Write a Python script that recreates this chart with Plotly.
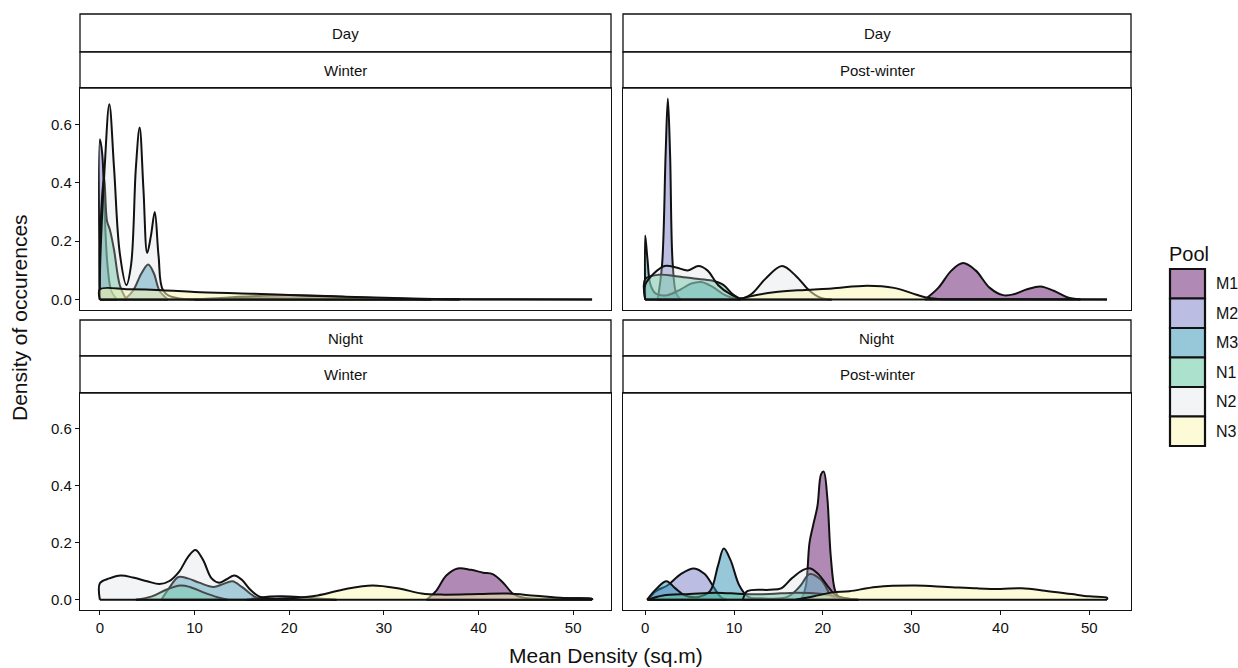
import plotly.graph_objects as go

W, H = 1238, 668

POOLS = ["M1", "M2", "M3", "N1", "N2", "N3"]
# fill colour and opacity per pool; legend swatches use the same colours blended on white
FILL_BASE = {
    "M1": (97, 21, 105),
    "M2": (119, 125, 197),
    "M3": (45, 145, 182),
    "N1": (88, 195, 155),
    "N2": (212, 216, 218),
    "N3": (249, 245, 175),
}
FILL_ALPHA = {"M1": 0.5, "M2": 0.5, "M3": 0.5, "N1": 0.5, "N2": 0.28, "N3": 0.5}

# ---- density curves: (x, density) knots per pool and panel ----
# Day / Winter
dw_m1 = [(10, 0), (14, 0.008), (18, 0.014), (22, 0.014), (26, 0.009), (30, 0.004), (35, 0)]
dw_m2 = [(0, 0.55), (0.25, 0.5), (0.5, 0.3), (0.8, 0.12), (1.2, 0.03), (1.8, 0)]
dw_m3 = [(2.6, 0), (3.5, 0.03), (4.4, 0.09), (5.1, 0.12), (5.7, 0.09), (6.3, 0.03), (7.2, 0)]
dw_n1 = [(0, 0.18), (0.45, 0.42), (0.75, 0.27), (1.05, 0.24), (1.5, 0.17), (2.1, 0.05), (2.8, 0)]
dw_n2 = [(0, 0.08), (0.5, 0.45), (1.0, 0.67), (1.5, 0.45), (2.1, 0.16), (2.8, 0.05), (3.3, 0.12),
         (3.8, 0.45), (4.2, 0.59), (4.6, 0.38), (5.0, 0.16), (5.4, 0.22), (5.8, 0.3), (6.2, 0.15),
         (6.7, 0.03), (8, 0.006), (15, 0.004), (25, 0.003), (40, 0.001), (52, 0)]
dw_n3 = [(0, 0.035), (3, 0.035), (6.6, 0.032), (10, 0.026), (16, 0.02), (22, 0.013), (28, 0.008),
         (34, 0.003), (38, 0)]

# Day / Post-winter
dp_m1 = [(31.5, 0), (33, 0.04), (34.5, 0.1), (35.8, 0.125), (37.2, 0.1), (38.8, 0.04), (40.3, 0.015),
         (41.5, 0.018), (43, 0.035), (44.5, 0.045), (46, 0.03), (47.5, 0.008), (49, 0)]
dp_m2 = [(1.4, 0), (1.9, 0.12), (2.3, 0.5), (2.55, 0.69), (2.8, 0.5), (3.1, 0.12), (3.5, 0.02), (4, 0)]
dp_m3 = [(0, 0.22), (0.25, 0.14), (0.6, 0.05), (1.2, 0.02), (2.5, 0.015), (4, 0.035), (5.2, 0.055),
         (6.3, 0.06), (7.5, 0.045), (9, 0.015), (10.5, 0)]
dp_n1 = [(0, 0.07), (1.5, 0.085), (3.5, 0.08), (5.5, 0.072), (7.5, 0.065), (8.8, 0.05), (9.8, 0.02),
         (10.8, 0)]
dp_n2 = [(0, 0.05), (1.0, 0.09), (2.2, 0.115), (3.5, 0.11), (4.8, 0.1), (6.0, 0.115), (7.0, 0.1),
         (8.2, 0.05), (9.5, 0.02), (10.8, 0.004), (12, 0.02), (13.5, 0.07), (15.4, 0.115), (17, 0.08),
         (18.5, 0.03), (19.8, 0.005), (21, 0)]
dp_n3 = [(10.5, 0), (12, 0.012), (14.5, 0.025), (18, 0.033), (21, 0.038), (25, 0.047), (28, 0.04),
         (30, 0.022), (31.5, 0.008), (33, 0.002), (40, 0.001), (52, 0)]

# Night / Winter
nw_m1 = [(34.5, 0), (35.5, 0.03), (36.6, 0.085), (37.8, 0.11), (39.2, 0.105), (40.5, 0.095),
         (41.5, 0.09), (42.6, 0.06), (43.7, 0.02), (45, 0.006), (48, 0.004), (52, 0.003)]
nw_m2 = [(15.5, 0), (17, 0.008), (19, 0.012), (21, 0.01), (23, 0.004), (25, 0)]
nw_m3 = [(6.5, 0), (7.3, 0.04), (8.3, 0.08), (9.3, 0.075), (10.5, 0.06), (12, 0.045), (13, 0.055),
         (14, 0.065), (15, 0.045), (16.3, 0.012), (17.5, 0)]
nw_n1 = [(3.8, 0), (5.5, 0.012), (7, 0.035), (8.5, 0.05), (9.5, 0.045), (11, 0.025), (12.5, 0.008),
         (13.5, 0)]
nw_n2 = [(0, 0.058), (1.0, 0.075), (2.2, 0.085), (3.5, 0.078), (5.0, 0.065), (6.3, 0.055), (7.3, 0.065),
         (8.4, 0.1), (9.3, 0.15), (10.1, 0.175), (10.9, 0.14), (11.8, 0.075), (12.6, 0.06),
         (13.4, 0.072), (14.2, 0.085), (15.0, 0.07), (15.9, 0.035), (16.8, 0.012), (18, 0.004), (20, 0)]
nw_n3 = [(16, 0), (20, 0.005), (23, 0.015), (26, 0.038), (28.8, 0.05), (31.5, 0.04), (34, 0.022),
         (36, 0.018), (40, 0.02), (43, 0.022), (46, 0.014), (49, 0.006), (52, 0.003)]

# Night / Post-winter
np_m1 = [(17.6, 0), (18.1, 0.05), (18.5, 0.2), (18.9, 0.26), (19.4, 0.33), (19.8, 0.44), (20.1, 0.45),
         (20.5, 0.36), (20.9, 0.15), (21.4, 0.03), (22, 0)]
np_m2 = [(0.3, 0), (1.2, 0.03), (2.5, 0.05), (4.0, 0.09), (5.5, 0.11), (6.7, 0.09), (7.6, 0.05),
         (8.5, 0.01), (9.2, 0)]
np_m3 = [(0.2, 0), (1.3, 0.04), (2.4, 0.065), (3.4, 0.04), (4.5, 0.015), (6, 0.01), (7.3, 0.03),
         (8.2, 0.12), (8.85, 0.18), (9.6, 0.14), (10.6, 0.05), (11.6, 0.01), (13, 0.005), (16, 0.01),
         (17.5, 0.05), (18.5, 0.09), (19.8, 0.07), (20.8, 0.02), (21.5, 0)]
np_n1 = [(0.3, 0), (2, 0.015), (5, 0.02), (8, 0.025), (11, 0.02), (14, 0.02), (17, 0.025), (20, 0.02),
         (22, 0.008), (24, 0)]
np_n2 = [(11, 0), (11.5, 0.03), (14, 0.035), (15.3, 0.04), (16.5, 0.075), (17.8, 0.105), (18.6, 0.11),
         (19.5, 0.09), (20.5, 0.05), (21.3, 0.02), (22.5, 0.005), (24, 0)]
np_n3 = [(17, 0), (19, 0.012), (21, 0.025), (23, 0.03), (26, 0.045), (30.4, 0.05), (34, 0.045),
         (37.4, 0.04), (40, 0.038), (42.4, 0.04), (45, 0.032), (48, 0.02), (50, 0.012), (52, 0.007)]

PANELS = [
    ("x", "y", [dw_m1, dw_m2, dw_m3, dw_n1, dw_n2, dw_n3]),
    ("x2", "y2", [dp_m1, dp_m2, dp_m3, dp_n1, dp_n2, dp_n3]),
    ("x3", "y3", [nw_m1, nw_m2, nw_m3, nw_n1, nw_n2, nw_n3]),
    ("x4", "y4", [np_m1, np_m2, np_m3, np_n1, np_n2, np_n3]),
]

STRIPS = [("Day", "Winter"), ("Day", "Post-winter"), ("Night", "Winter"), ("Night", "Post-winter")]

X_TICKS = [0, 10, 20, 30, 40, 50]
Y_TICKS = [0.0, 0.2, 0.4, 0.6]

FONT = "Liberation Sans, Arial, sans-serif"
INK = "#111111"


def px_x(p):
    return p / W


def px_y(p):
    return 1 - p / H


fig = go.Figure()

for xa, ya, curves in PANELS:
    for pool, pts in zip(POOLS, curves):
        xs = [p[0] for p in pts]
        ys = [p[1] for p in pts]
        if ys[0] != 0:
            xs = [xs[0]] + xs
            ys = [0] + ys
        if ys[-1] != 0:
            xs = xs + [xs[-1]]
            ys = ys + [0]
        r, g, b = FILL_BASE[pool]
        fig.add_trace(go.Scatter(
            x=xs, y=ys, xaxis=xa, yaxis=ya, mode="lines",
            line=dict(color=INK, width=2, shape="spline", smoothing=1),
            fill="tozeroy", fillcolor=f"rgba({r},{g},{b},{FILL_ALPHA[pool]})",
            showlegend=False, hoverinfo="skip", name=pool,
        ))
        # polygon base along zero
        fig.add_trace(go.Scatter(
            x=[xs[0], xs[-1]], y=[0, 0], xaxis=xa, yaxis=ya, mode="lines",
            line=dict(color=INK, width=2),
            showlegend=False, hoverinfo="skip",
        ))

# panel geometry in pixels
LEFT = (80, 611)
RIGHT = (623, 1131)
TOP = (88, 310)
BOTTOM = (393, 610)
X_RANGE_L = [-2.1, 54.0]
X_RANGE_R = [-2.5, 54.7]
Y_RANGE = [-0.036, 0.726]

axis_common = dict(showgrid=False, zeroline=False, showline=True, mirror=True,
                   linecolor=INK, linewidth=1.3,
                   tickfont=dict(family=FONT, size=15, color=INK),
                   ticks="outside", ticklen=4, tickcolor=INK, tickwidth=1.3)

layout_axes = {}
specs = [
    ("xaxis", "yaxis", LEFT, TOP, X_RANGE_L, "y", "x", False, True),
    ("xaxis2", "yaxis2", RIGHT, TOP, X_RANGE_R, "y2", "x2", False, False),
    ("xaxis3", "yaxis3", LEFT, BOTTOM, X_RANGE_L, "y3", "x3", True, True),
    ("xaxis4", "yaxis4", RIGHT, BOTTOM, X_RANGE_R, "y4", "x4", True, False),
]
for xk, yk, (xl, xr), (yt, yb), xr_range, yanchor, xanchor, show_x, show_y in specs:
    xa = dict(axis_common, domain=[px_x(xl), px_x(xr)], range=xr_range, anchor=yanchor,
              tickvals=X_TICKS, ticktext=[str(v) for v in X_TICKS], showticklabels=show_x)
    if not show_x:
        xa["ticks"] = ""
    ya = dict(axis_common, domain=[px_y(yb), px_y(yt)], range=Y_RANGE, anchor=xanchor,
              tickvals=Y_TICKS, ticktext=[f"{v:.1f}" for v in Y_TICKS], showticklabels=show_y)
    if not show_y:
        ya["ticks"] = ""
    layout_axes[xk] = xa
    layout_axes[yk] = ya

shapes = []
annotations = []

# two-level strips above each panel
strip_rows = {TOP: [(14, 52), (52, 88)], BOTTOM: [(320, 356), (356, 393)]}
panel_boxes = [(LEFT, TOP), (RIGHT, TOP), (LEFT, BOTTOM), (RIGHT, BOTTOM)]
for ((xl, xr), rows_key), labels in zip(panel_boxes, STRIPS):
    for (t, b), lab in zip(strip_rows[rows_key], labels):
        shapes.append(dict(type="rect", xref="paper", yref="paper",
                           x0=px_x(xl), x1=px_x(xr), y0=px_y(b), y1=px_y(t),
                           line=dict(color=INK, width=1.3), fillcolor="white", layer="below"))
        annotations.append(dict(text=lab, xref="paper", yref="paper",
                                x=px_x((xl + xr) / 2), y=px_y((t + b) / 2),
                                showarrow=False, xanchor="center", yanchor="middle",
                                font=dict(family=FONT, size=15, color=INK)))

# axis titles
annotations.append(dict(text="Mean Density (sq.m)", xref="paper", yref="paper",
                        x=px_x(606), y=px_y(655), showarrow=False,
                        xanchor="center", yanchor="middle",
                        font=dict(family=FONT, size=21, color=INK)))
annotations.append(dict(text="Density of occurences", xref="paper", yref="paper",
                        x=px_x(19), y=px_y(318), showarrow=False, textangle=-90,
                        xanchor="center", yanchor="middle",
                        font=dict(family=FONT, size=21, color=INK)))

# legend
annotations.append(dict(text="Pool", xref="paper", yref="paper",
                        x=px_x(1167), y=px_y(254), showarrow=False,
                        xanchor="left", yanchor="middle",
                        font=dict(family=FONT, size=20, color=INK)))
key_top, key_h, key_l, key_r = 269, 29.5, 1170, 1205
for i, pool in enumerate(POOLS):
    r, g, b = FILL_BASE[pool]
    a = FILL_ALPHA[pool]
    cr, cg, cb = [round(255 * (1 - a) + c * a) for c in (r, g, b)]
    t = key_top + i * key_h
    shapes.append(dict(type="rect", xref="paper", yref="paper",
                       x0=px_x(key_l), x1=px_x(key_r), y0=px_y(t + key_h), y1=px_y(t),
                       line=dict(color=INK, width=2.2), fillcolor=f"rgb({cr},{cg},{cb})"))
    annotations.append(dict(text=pool, xref="paper", yref="paper",
                            x=px_x(key_r + 9), y=px_y(t + key_h / 2), showarrow=False,
                            xanchor="left", yanchor="middle",
                            font=dict(family=FONT, size=16, color=INK)))

fig.update_layout(
    width=W, height=H, margin=dict(l=0, r=0, t=0, b=0),
    paper_bgcolor="white", plot_bgcolor="white",
    shapes=shapes, annotations=annotations, showlegend=False,
    **layout_axes,
)

fig.write_html("out.html")
